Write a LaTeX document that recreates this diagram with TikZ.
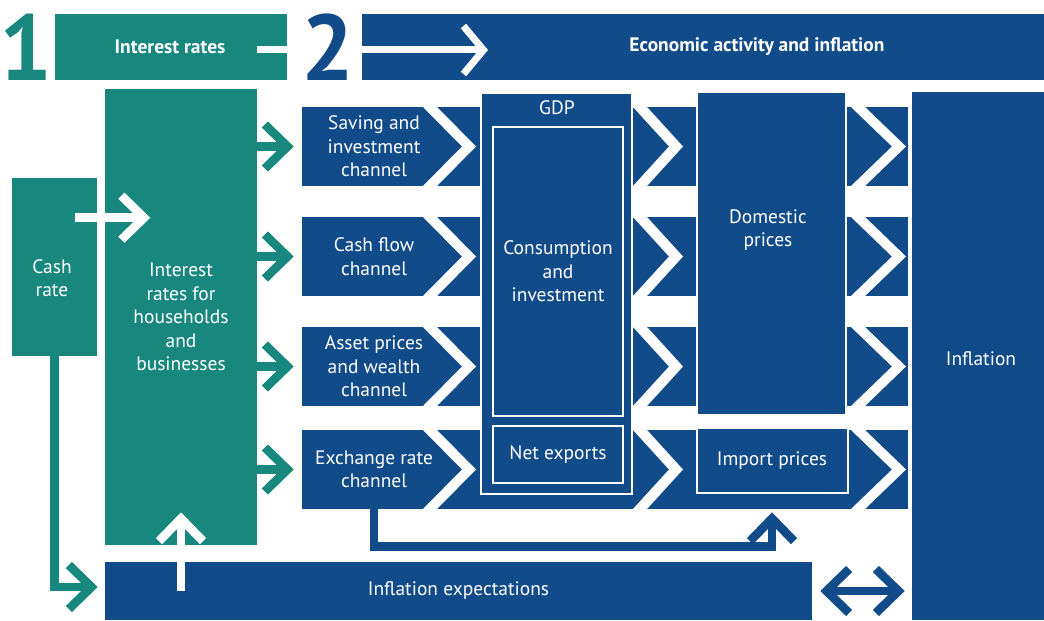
\documentclass[tikz,border=0pt]{standalone}
\usepackage{fontspec}
\setmainfont{PT Sans}
\usetikzlibrary{arrows.meta}
\definecolor{rbateal}{RGB}{24,136,126}
\definecolor{rbablue}{RGB}{18,75,137}
\newdimen\px
\px=0.75pt
\newcommand\boxfont{\fontsize{14.6}{17.6}\selectfont}
\tikzset{
  >={Straight Barb[length=17pt,width=33pt,sharp]},
  tealbox/.style={fill=rbateal, inner sep=0pt, text=white, align=center, font=\boxfont},
  bluebox/.style={fill=rbablue, inner sep=0pt, text=white, align=center, font=\boxfont},
  outlinebox/.style={bluebox, draw=white, line width=1.5pt},
  lbl/.style={text=white, align=center, font=\boxfont},
  headtext/.style={text=white, align=center, font=\boxfont\bfseries},
  bignum/.style={inner sep=0pt, font=\fontsize{70}{70}\selectfont\bfseries},
  chev/.style={->, line width=6.5pt},
  tealarrow/.style={chev, draw=rbateal},
  bluearrow/.style={chev, draw=rbablue},
  wharrow/.style={chev, draw=white},
}
\begin{document}
\begin{tikzpicture}[x=0.75pt, y=-0.75pt]
  \useasboundingbox (0,0) rectangle (1044,620);
  % Header: stage 1
  \node[bignum, text=rbateal] (one) at (26,47) {1};
  \node[tealbox, minimum width=232\px, minimum height=66\px] (ir) at (171,47) {};
  \node[headtext] (ir-t) at (170,47) {Interest rates};
  % Header: stage 2
  \node[bluebox, minimum width=682\px, minimum height=66\px] (eai) at (703,47) {};
  \node[headtext] (eai-t) at (757,47) {Economic activity and inflation};
  \coordinate (top-end) at (488,50);
  \draw[wharrow, line width=5.25pt, -{Straight Barb[length=15pt,width=36pt,sharp]}]
    ([shift={(-30,3)}]ir.east) -- (top-end);
  \node[bignum, text=rbablue] (two) at (328,47) {2};
  % Cash rate and lending rates
  \node[tealbox, minimum width=85\px, minimum height=178\px] (cash) at (54.5,267) {};
  \node[lbl] (cash-t) at (52,278) {Cash\\rate};
  \node[tealbox, minimum width=152\px, minimum height=456\px] (ib) at (181,317)
    {Interest\\rates for\\households\\and\\businesses};
  % Channel rows
  \foreach \r/\y in {1/146.5, 2/256.5, 3/366.5, 4/469.5}
    \node[bluebox, minimum width=606\px, minimum height=79\px] (row\r) at (605,\y) {};
  % White chevrons cut into the rows
  \foreach \t/\b in {107/186, 217/296, 327/406, 430/509}
    \foreach \x/\d in {430/39, 640/36, 858/41}
      \fill[white] (\x-7,\t) -- (\x-7+\d,{(\t+\b)/2}) -- (\x-7,\b)
        -- (\x+7,\b) -- (\x+7+\d,{(\t+\b)/2}) -- (\x+7,\t) -- cycle;
  \node[lbl] (ch1) at (374,146.5) {Saving and\\investment\\channel};
  \node[lbl] (ch2) at (374,256.5) {Cash flow\\channel};
  \node[lbl] (ch3) at (374,366.5) {Asset prices\\and wealth\\channel};
  \node[lbl] (ch4) at (374,469.5) {Exchange rate\\channel};
  % GDP box
  \node[outlinebox, minimum width=151\px, minimum height=401\px] (gdp) at (556.5,293.5) {};
  \node[lbl] (gdp-t) at (557,108) {GDP};
  \node[outlinebox, minimum width=130\px, minimum height=289\px] (cons) at (558,271.5)
    {Consumption\\and\\investment};
  \node[outlinebox, minimum width=130\px, minimum height=57\px] (nx) at (558,454.5) {Net exports};
  % Prices
  \node[outlinebox, minimum width=149\px, minimum height=323\px] (dom) at (771.5,253.5) {};
  \node[lbl] (dom-t) at (768,230) {Domestic\\prices};
  \node[outlinebox, minimum width=151\px, minimum height=65\px] (imp) at (772,460.5) {Import prices};
  % Inflation
  \node[bluebox, minimum width=132\px, minimum height=528\px] (infl) at (978,356) {};
  \node[lbl] (infl-t) at (981,359) {Inflation};
  % Inflation expectations
  \node[bluebox, minimum width=707\px, minimum height=58\px] (ie) at (458.5,591) {Inflation expectations};
  % Arrows
  \draw[wharrow] ([shift={(-22,40)}]cash.north east) -- +(75,0);
  \foreach \r in {1,...,4}
    \draw[tealarrow] (ib.east |- row\r.west) -- ([xshift=-8\px]row\r.west);
  \draw[tealarrow] (cash.south) |- ([shift={(-7,-4)}]ie.west);
  \draw[wharrow] (ib.south |- ie.center) -- ([yshift=33\px]ib.south);
  \draw[bluearrow] (row4.south -| ch4) |- ([yshift=-37\px]row4.south -| imp)
    -- ([yshift=-3\px]row4.south -| imp);
  \draw[bluearrow, <->] ([xshift=8\px]ie.east) -- ([xshift=-7\px]infl.west |- ie.east);
\end{tikzpicture}
\end{document}
